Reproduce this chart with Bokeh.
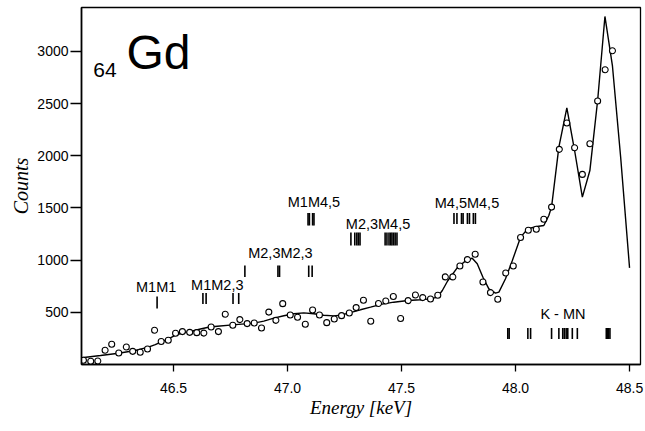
from bokeh.plotting import figure
from bokeh.models import Range1d, FixedTicker, PrintfTickFormatter
from bokeh.core.properties import value
from bokeh.embed import file_html
from bokeh.resources import INLINE

# ---- measured spectrum (open circles) ----
energy = [46.105, 46.137, 46.168, 46.200, 46.229, 46.260, 46.293, 46.321, 46.354, 46.386,
          46.417, 46.446, 46.477, 46.509, 46.539, 46.571, 46.602, 46.633, 46.665, 46.697,
          46.727, 46.760, 46.791, 46.823, 46.854, 46.886, 46.918, 46.949, 46.979, 47.012,
          47.044, 47.078, 47.110, 47.140, 47.172, 47.205, 47.237, 47.271, 47.301, 47.333,
          47.365, 47.399, 47.431, 47.464, 47.496, 47.529, 47.561, 47.593, 47.627, 47.659,
          47.692, 47.725, 47.756, 47.789, 47.823, 47.857, 47.890, 47.922, 47.957, 47.990,
          48.022, 48.056, 48.091, 48.124, 48.158, 48.192, 48.225, 48.259, 48.293, 48.326,
          48.360, 48.393, 48.425]
counts = [40, 31, 34, 136, 194, 110, 168, 126, 117, 148,
          328, 220, 232, 299, 315, 308, 305, 301, 359, 315,
          481, 376, 430, 392, 397, 349, 502, 423, 583, 474,
          452, 385, 522, 474, 401, 436, 468, 493, 545, 615,
          414, 584, 609, 651, 440, 612, 666, 641, 627, 663,
          839, 839, 944, 1005, 1056, 790, 689, 625, 877, 944,
          1216, 1286, 1295, 1391, 1508, 2061, 2313, 2077, 1821, 2115,
          2524, 2824, 3006]

# ---- fitted curve (solid line) ----
fit_energy = [46.098, 46.180, 46.259, 46.332, 46.390, 46.420, 46.449, 46.478, 46.507, 46.536,
              46.580, 46.618, 46.653, 46.692, 46.760, 46.852, 46.896, 46.940, 46.984, 47.028,
              47.071, 47.115, 47.159, 47.203, 47.232, 47.271, 47.320, 47.364, 47.415, 47.466,
              47.528, 47.583, 47.627, 47.657, 47.679, 47.702, 47.744, 47.788, 47.810, 47.832,
              47.857, 47.883, 47.912, 47.927, 47.956, 47.986, 48.022, 48.054, 48.095, 48.124,
              48.146, 48.158, 48.190, 48.225, 48.259, 48.293, 48.326, 48.360, 48.392, 48.425,
              48.461, 48.500]
fit_counts = [64, 86, 108, 134, 166, 191, 220, 246, 278, 300,
              319, 340, 357, 367, 380, 396, 415, 444, 467, 486,
              495, 486, 472, 466, 472, 495, 524, 549, 578, 597,
              613, 620, 629, 645, 709, 800, 926, 1006, 1018, 965,
              836, 725, 683, 693, 821, 996, 1220, 1300, 1322, 1332,
              1427, 1510, 2082, 2459, 2050, 1603, 1858, 2529, 3334, 2860,
              1986, 926]

# ---- satellite line groups ----
group_names = ["M1M1", "M1M2,3", "M2,3M2,3", "M1M4,5", "M2,3M4,5", "M4,5M4,5", "K - MN"]
group_label_x = [46.424, 46.692, 46.969, 47.116, 47.397, 47.787, 48.208]
group_label_y = [747, 766, 1068, 1555, 1348, 1545, 486]
group_bar_lo = [536, 580, 838, 1332, 1140, 1346, 244]
group_bar_hi = [651, 685, 948, 1451, 1265, 1451, 350]
group_lines = [
    [46.428],
    [46.629, 46.643, 46.761, 46.786],
    [46.813, 46.958, 46.965, 47.093, 47.108],
    [47.090, 47.096, 47.110, 47.116],
    [47.278, 47.295, 47.304, 47.311, 47.318, 47.428, 47.436, 47.445, 47.452,
     47.458, 47.465, 47.472, 47.480],
    [47.730, 47.743, 47.763, 47.770, 47.789, 47.798, 47.815, 47.824],
    [47.966, 47.972, 48.054, 48.066, 48.158, 48.190, 48.207, 48.214, 48.222,
     48.229, 48.249, 48.271, 48.398, 48.403, 48.408, 48.414],
]

x_ticks = [46.5, 47.0, 47.5, 48.0, 48.5]
y_ticks = [500, 1000, 1500, 2000, 2500, 3000]

element_symbol = "Gd"
atomic_number = "64"
symbol_pos = (46.294, 2989)
number_pos = (46.148, 2817)

p = figure(width=645, height=431, output_backend="svg", toolbar_location=None,
           x_range=Range1d(46.0965, 48.548), y_range=Range1d(0, 3420),
           min_border_left=81, min_border_right=5, min_border_top=7, min_border_bottom=67)
p.background_fill_color = "white"
p.border_fill_color = "white"
p.xgrid.visible = False
p.ygrid.visible = False
p.outline_line_color = "black"
p.outline_line_width = 1.3

for ax in (p.xaxis[0], p.yaxis[0]):
    ax.axis_line_color = "black"
    ax.axis_line_width = 1.6
    ax.major_tick_line_color = "black"
    ax.major_tick_line_width = 1.3
    ax.minor_tick_line_color = None
    ax.major_tick_in = 0
    ax.major_label_text_font = "Liberation Sans"
    ax.major_label_text_font_size = "14px"
    ax.major_label_text_color = "black"
    ax.axis_label_text_font = "Liberation Serif"
    ax.axis_label_text_font_style = "italic"
    ax.axis_label_text_color = "black"

p.xaxis.ticker = FixedTicker(ticks=x_ticks)
p.xaxis.formatter = PrintfTickFormatter(format="%.1f")
p.xaxis.major_tick_out = 7
p.xaxis.major_label_standoff = 11
p.xaxis.axis_label = "Energy [keV]"
p.xaxis.axis_label_text_font_size = "19px"
p.xaxis.axis_label_standoff = 1

p.yaxis.ticker = FixedTicker(ticks=y_ticks)
p.yaxis.major_tick_out = 11
p.yaxis.major_label_standoff = 2
p.yaxis.axis_label = "Counts"
p.yaxis.axis_label_text_font_size = "20px"
p.yaxis.axis_label_standoff = 2

# fitted curve
p.line(fit_energy, fit_counts, line_color="black", line_width=1.4)
# data
p.scatter(energy, counts, marker="circle", size=6, fill_color="white",
          line_color="black", line_width=1.1)

# satellite bars
bx, blo, bhi = [], [], []
for lines, lo, hi in zip(group_lines, group_bar_lo, group_bar_hi):
    for e in lines:
        bx.append(e)
        blo.append(lo)
        bhi.append(hi)
p.segment(x0=bx, y0=blo, x1=bx, y1=bhi, line_color="black", line_width=1.6)

p.text(x=group_label_x, y=group_label_y, text=group_names,
       text_font=value("Liberation Sans"), text_font_size="14.5px",
       text_align="center", text_baseline="middle", text_color="black")

p.text(x=[symbol_pos[0]], y=[symbol_pos[1]], text=[element_symbol],
       text_font=value("Liberation Sans"), text_font_size="48px",
       text_align="left", text_baseline="middle", text_color="black")
p.text(x=[number_pos[0]], y=[number_pos[1]], text=[atomic_number],
       text_font=value("Liberation Sans"), text_font_size="21px",
       text_align="left", text_baseline="middle", text_color="black")

open("out.html", "w").write(file_html(p, INLINE))
